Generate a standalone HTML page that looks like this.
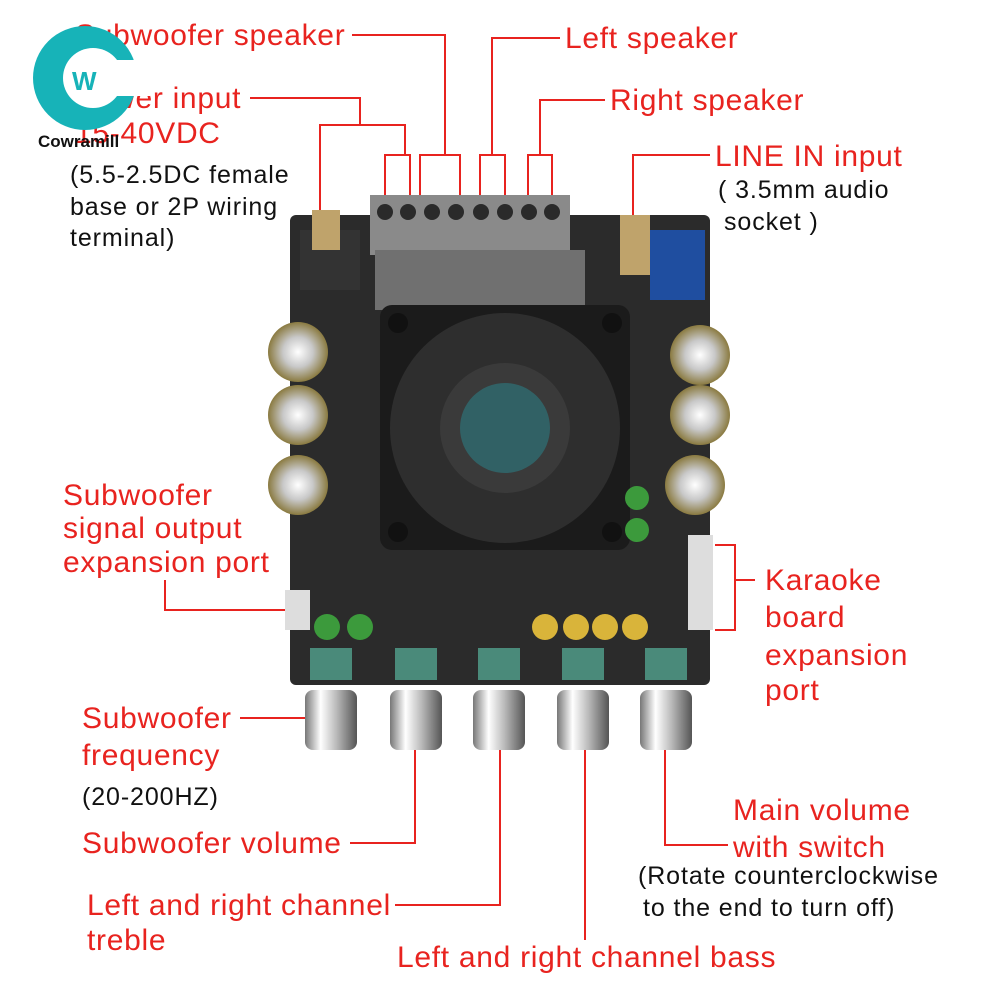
<!DOCTYPE html>
<html><head><meta charset="utf-8"><style>
html,body{margin:0;padding:0;background:#fff}
svg{display:block}
text{font-family:"Liberation Sans",sans-serif}
.r{fill:#e8231f;font-size:30px;letter-spacing:0.7px}
.b{fill:#111;font-size:25px;letter-spacing:0.9px}
</style></head><body>
<svg width="1000" height="1000" viewBox="0 0 1000 1000">
<defs>
<radialGradient id="cap" cx="50%" cy="50%" r="50%"><stop offset="0" stop-color="#fff"/><stop offset="0.5" stop-color="#c8c8c8"/><stop offset="1" stop-color="#8a7a40"/></radialGradient>
<linearGradient id="knob" x1="0" x2="1"><stop offset="0" stop-color="#777"/><stop offset="0.3" stop-color="#fff"/><stop offset="0.6" stop-color="#bbb"/><stop offset="1" stop-color="#555"/></linearGradient>
</defs>
<rect x="290" y="215" width="420" height="470" rx="6" fill="#2b2b2b"/>
<rect x="300" y="230" width="60" height="60" fill="#333"/>
<rect x="312" y="210" width="28" height="40" fill="#bfa36b"/>
<rect x="370" y="195" width="200" height="60" fill="#8a8a8a"/>
<rect x="375" y="250" width="210" height="60" fill="#707070"/>
<g fill="#2a2a2a">
<circle cx="385" cy="212" r="8"/><circle cx="408" cy="212" r="8"/><circle cx="432" cy="212" r="8"/><circle cx="456" cy="212" r="8"/><circle cx="481" cy="212" r="8"/><circle cx="505" cy="212" r="8"/><circle cx="529" cy="212" r="8"/><circle cx="552" cy="212" r="8"/>
</g>
<rect x="620" y="215" width="30" height="60" fill="#bfa36b"/>
<rect x="650" y="230" width="55" height="70" fill="#1f4ea0"/>
<rect x="380" y="305" width="250" height="245" rx="12" fill="#1b1b1b"/>
<circle cx="505" cy="428" r="115" fill="#2e2e2e"/>
<circle cx="505" cy="428" r="65" fill="#3a3a3a"/>
<circle cx="505" cy="428" r="45" fill="#2f6b70" opacity="0.8"/>
<g fill="#111"><circle cx="398" cy="323" r="10"/><circle cx="612" cy="323" r="10"/><circle cx="398" cy="532" r="10"/><circle cx="612" cy="532" r="10"/></g>
<g fill="url(#cap)">
<circle cx="298" cy="352" r="30"/><circle cx="298" cy="415" r="30"/><circle cx="298" cy="485" r="30"/>
<circle cx="700" cy="355" r="30"/><circle cx="700" cy="415" r="30"/><circle cx="695" cy="485" r="30"/>
</g>
<g fill="#3c9a3c"><circle cx="327" cy="627" r="13"/><circle cx="360" cy="627" r="13"/><circle cx="637" cy="498" r="12"/><circle cx="637" cy="530" r="12"/></g>
<g fill="#d9b43a"><circle cx="545" cy="627" r="13"/><circle cx="576" cy="627" r="13"/><circle cx="605" cy="627" r="13"/><circle cx="635" cy="627" r="13"/></g>
<rect x="285" y="590" width="25" height="40" fill="#ddd"/>
<rect x="688" y="535" width="25" height="95" fill="#ddd"/>
<g fill="#4a8a7a"><rect x="310" y="648" width="42" height="32"/><rect x="395" y="648" width="42" height="32"/><rect x="478" y="648" width="42" height="32"/><rect x="562" y="648" width="42" height="32"/><rect x="645" y="648" width="42" height="32"/></g>
<g fill="url(#knob)"><rect x="305" y="690" width="52" height="60" rx="8"/><rect x="390" y="690" width="52" height="60" rx="8"/><rect x="473" y="690" width="52" height="60" rx="8"/><rect x="557" y="690" width="52" height="60" rx="8"/><rect x="640" y="690" width="52" height="60" rx="8"/></g>
<g stroke="#e8231f" stroke-width="2" fill="none">
<path d="M352 35H445V155M420 195V155H460V195"/>
<path d="M560 38H492V155M480 195V155H505V195"/>
<path d="M605 100H540V155M528 195V155H552V195"/>
<path d="M250 98H360V125M320 210V125H405V155M385 195V155H410V195"/>
<path d="M710 155H633V215"/>
<path d="M165 580V610H285"/>
<path d="M755 580H735M715 545H735V630H715"/>
<path d="M240 718H305"/>
<path d="M350 843H415V750"/>
<path d="M395 905H500V750"/>
<path d="M585 940V750"/>
<path d="M728 845H665V750"/>
</g>
<text class="r" x="75" y="45">Subwoofer speaker</text>
<text class="r" x="565" y="48">Left speaker</text>
<text class="r" x="75" y="108">Power input</text>
<text class="r" x="610" y="110">Right speaker</text>
<text class="r" x="75" y="143">15-40VDC</text>
<text class="r" x="715" y="166">LINE IN input</text>
<text class="b" x="70" y="183">(5.5-2.5DC female</text>
<text class="b" x="70" y="215">base or 2P wiring</text>
<text class="b" x="70" y="246">terminal)</text>
<text class="b" x="718" y="198">( 3.5mm audio</text>
<text class="b" x="724" y="230">socket )</text>
<text class="r" x="63" y="505">Subwoofer</text>
<text class="r" x="63" y="538">signal output</text>
<text class="r" x="63" y="572">expansion port</text>
<text class="r" x="765" y="590">Karaoke</text>
<text class="r" x="765" y="627">board</text>
<text class="r" x="765" y="665">expansion</text>
<text class="r" x="765" y="700">port</text>
<text class="r" x="82" y="728">Subwoofer</text>
<text class="r" x="82" y="765">frequency</text>
<text class="b" x="82" y="805">(20-200HZ)</text>
<text class="r" x="82" y="853">Subwoofer volume</text>
<text class="r" x="87" y="915">Left and right channel</text>
<text class="r" x="87" y="950">treble</text>
<text class="r" x="733" y="820">Main volume</text>
<text class="r" x="733" y="857">with switch</text>
<text class="b" x="638" y="884">(Rotate counterclockwise</text>
<text class="b" x="643" y="916">to the end to turn off)</text>
<text class="r" x="397" y="967">Left and right channel bass</text>
<circle cx="85" cy="78" r="52" fill="#17b3b8"/>
<circle cx="93" cy="78" r="30" fill="#fff"/>
<rect x="100" y="60" width="50" height="36" fill="#fff"/>
<text x="72" y="90" style="font-size:26px;font-weight:bold;fill:#17b3b8">W</text>
<text x="38" y="147" style="font-size:17px;font-weight:bold;fill:#111">Cowramill</text>
</svg>
</body></html>
